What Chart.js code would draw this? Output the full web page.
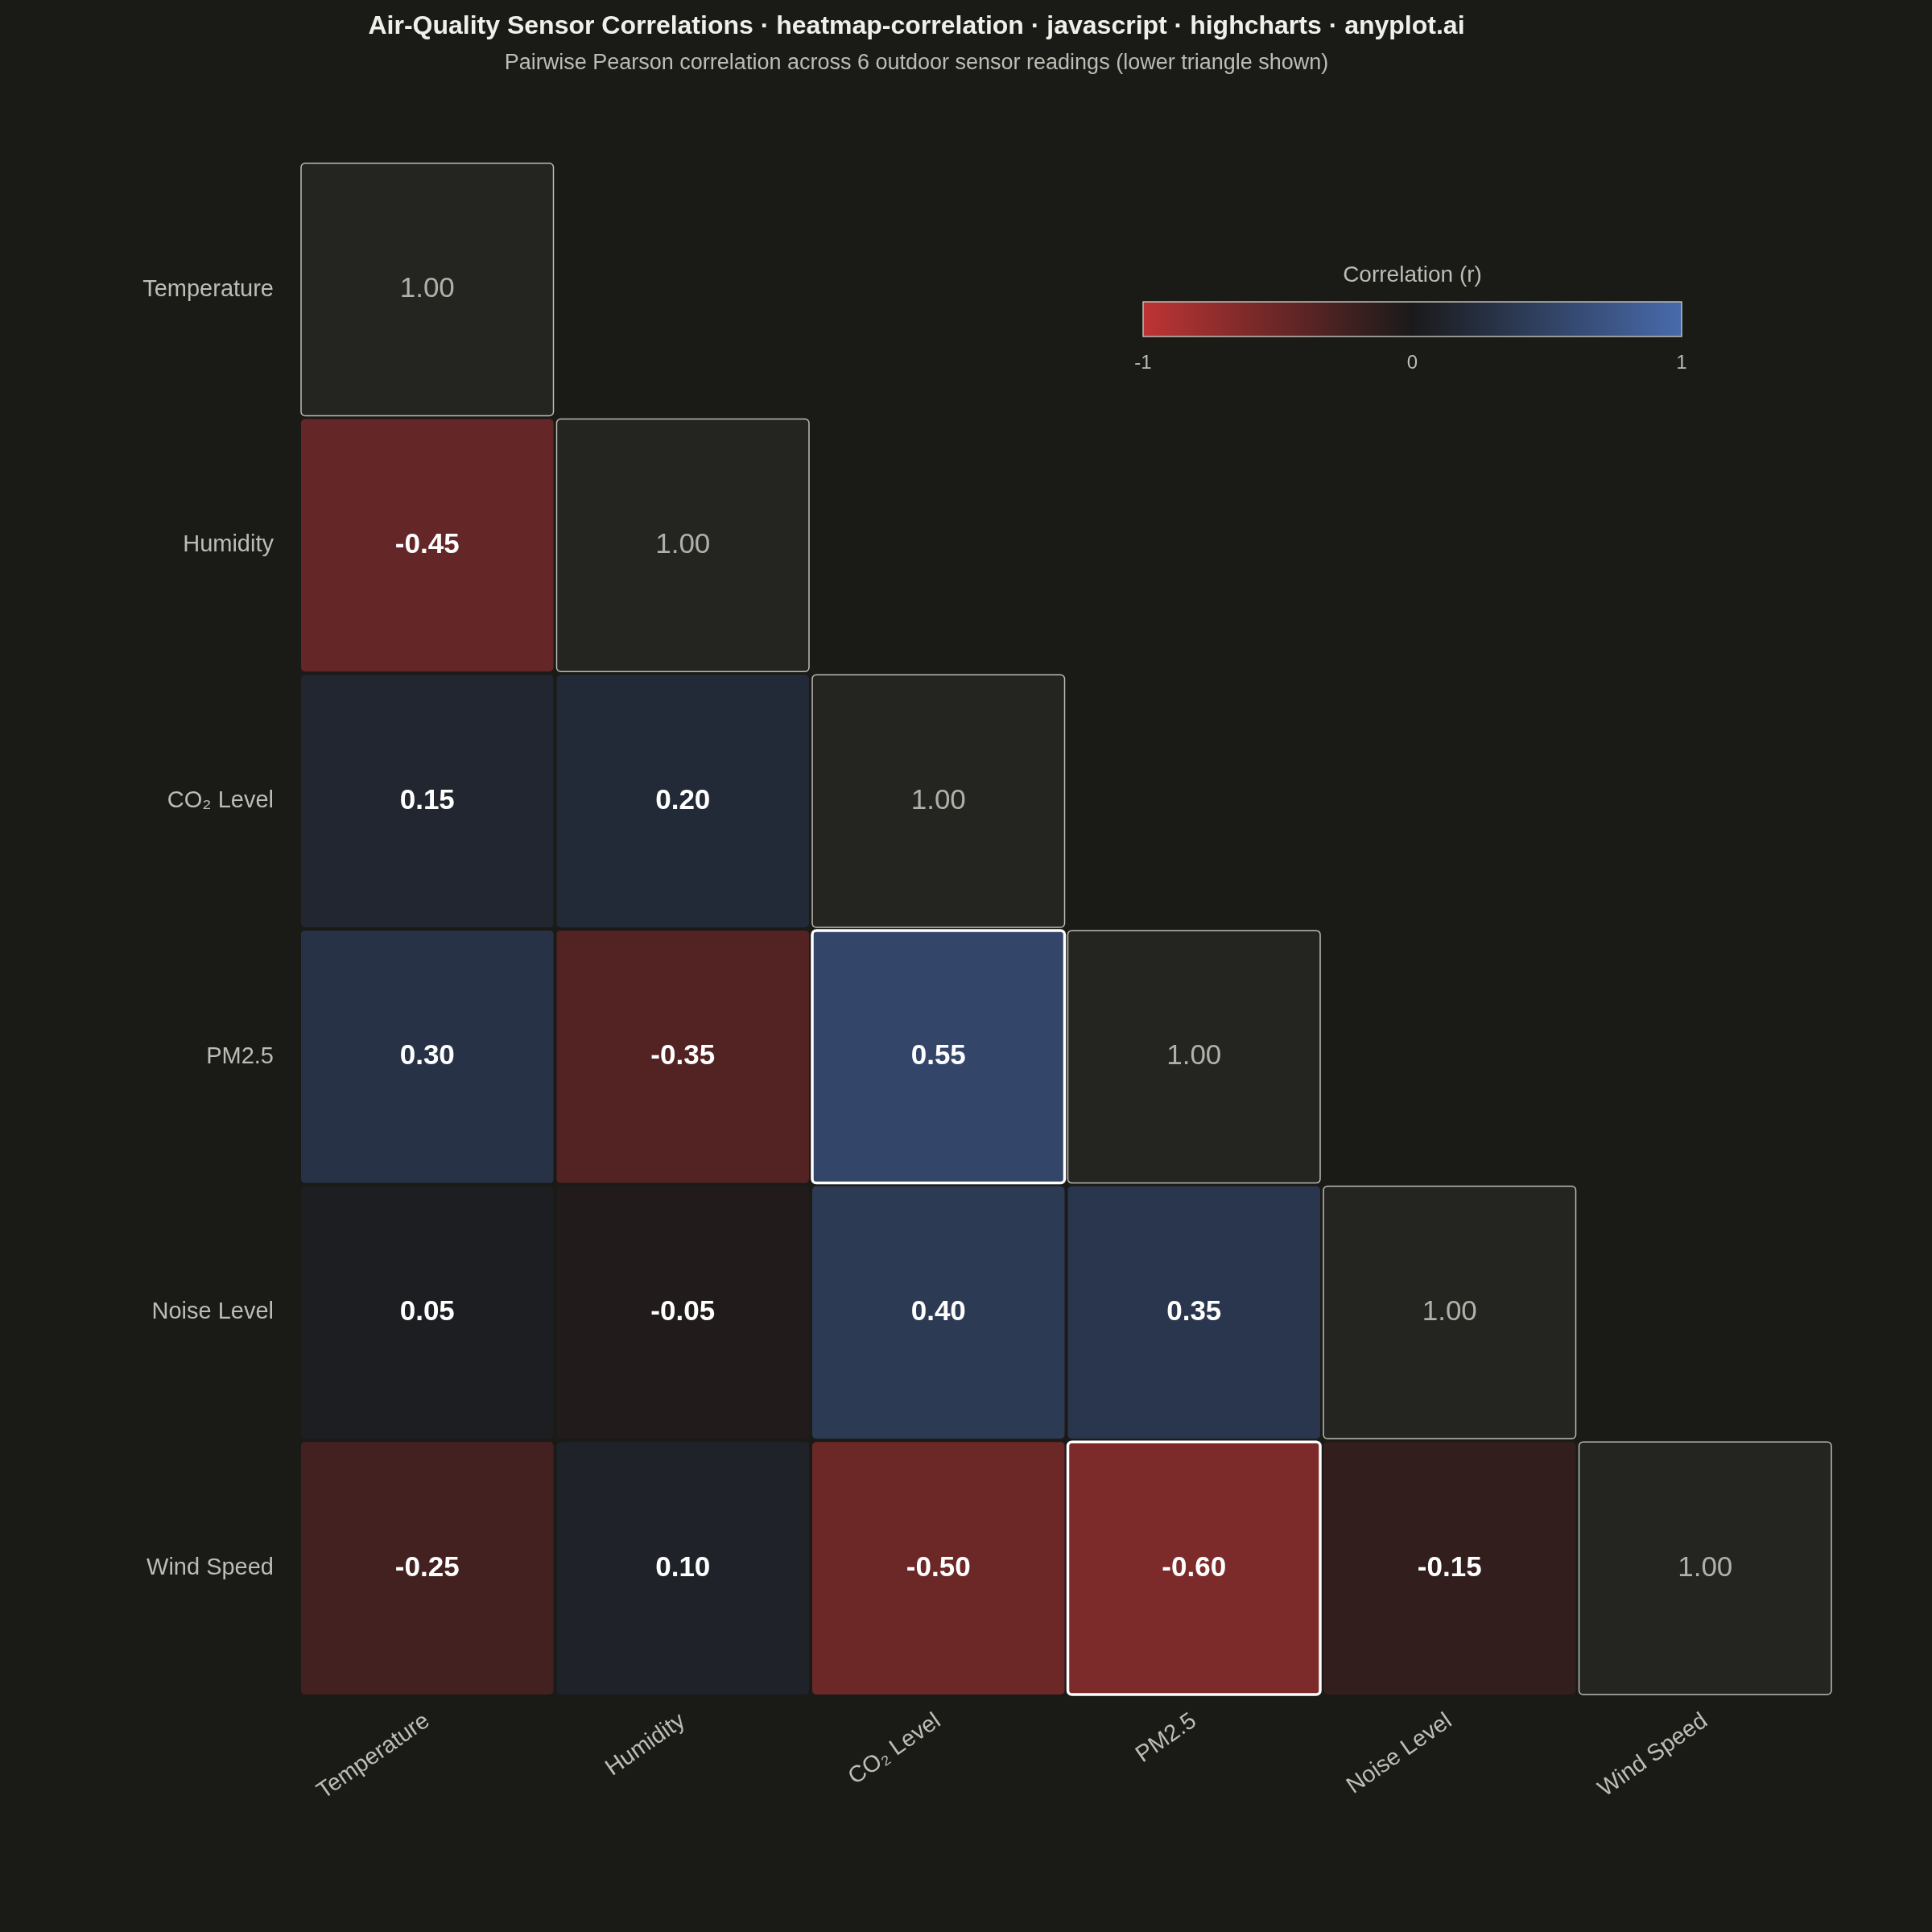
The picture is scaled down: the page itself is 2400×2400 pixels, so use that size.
<!DOCTYPE html>
<html>
<head>
<meta charset="utf-8">
<script src="https://cdn.jsdelivr.net/npm/chart.js@4.4.0/dist/chart.umd.min.js"></script>
<style>
  html, body { margin: 0; background: #1a1a17; }
  #wrap { width: 2400px; height: 2400px; }
</style>
</head>
<body>
<div id="wrap"><canvas id="heat"></canvas></div>
<script>
// sensors and the lower triangle of the correlation matrix
const sensors = ["Temperature", "Humidity", "CO\u2082 Level", "PM2.5", "Noise Level", "Wind Speed"];
const corrRows = [
  [1.00],
  [-0.45, 1.00],
  [0.15, 0.20, 1.00],
  [0.30, -0.35, 0.55, 1.00],
  [0.05, -0.05, 0.40, 0.35, 1.00],
  [-0.25, 0.10, -0.50, -0.60, -0.15, 1.00]
];
const colorTicks = [-1, 0, 1];

const NEG = [190, 52, 52], MID = [26, 26, 26], POS = [72, 106, 172];

function colorFor(v) {
  const end = v < 0 ? NEG : POS;
  const t = Math.abs(v);
  const c = MID.map((m, i) => Math.round(m + (end[i] - m) * t));
  return "rgb(" + c.join(",") + ")";
}

// flatten into points for the scatter dataset
const cells = [];
corrRows.forEach((row, r) => row.forEach((v, c) => cells.push({ x: c, y: r, v: v })));

// strongest off-diagonal pairs get a white outline
const offDiag = cells.filter(p => p.x !== p.y).map(p => Math.abs(p.v));
const strongest = offDiag.slice().sort((a, b) => b - a).slice(0, 2);

const cellPlugin = {
  id: "cells",
  beforeDatasetsDraw(chart) {
    const { ctx, scales: { x, y } } = chart;
    const gap = 2;
    cells.forEach(p => {
      const x0 = x.getPixelForValue(p.x - 0.5) + gap, x1 = x.getPixelForValue(p.x + 0.5) - gap;
      const y0 = y.getPixelForValue(p.y - 0.5) + gap, y1 = y.getPixelForValue(p.y + 0.5) - gap;
      const diag = p.x === p.y;
      const hi = !diag && strongest.includes(Math.abs(p.v));
      ctx.save();
      ctx.beginPath();
      ctx.roundRect(x0, y0, x1 - x0, y1 - y0, 5);
      ctx.fillStyle = diag ? "#242420" : colorFor(p.v);
      ctx.fill();
      if (diag || hi) {
        ctx.lineWidth = hi ? 3.5 : 1.5;
        ctx.strokeStyle = hi ? "#ffffff" : "#bdbdb5";
        ctx.stroke();
      }
      ctx.textAlign = "center";
      ctx.textBaseline = "middle";
      ctx.font = (diag ? "" : "bold ") + "35px 'Liberation Sans', Arial, sans-serif";
      ctx.fillStyle = diag ? "#b0b0a8" : "#ffffff";
      ctx.fillText(p.v.toFixed(2), (x0 + x1) / 2, (y0 + y1) / 2);
      ctx.restore();
    });

    // colour bar legend
    const bx = 1420, bw = 669, by = 375, bh = 43;
    ctx.save();
    const g = ctx.createLinearGradient(bx, 0, bx + bw, 0);
    g.addColorStop(0, colorFor(-1));
    g.addColorStop(0.5, colorFor(0));
    g.addColorStop(1, colorFor(1));
    ctx.fillStyle = g;
    ctx.fillRect(bx, by, bw, bh);
    ctx.strokeStyle = "#bdbdb5";
    ctx.lineWidth = 1.5;
    ctx.strokeRect(bx, by, bw, bh);
    ctx.fillStyle = "#bdbdb5";
    ctx.textAlign = "center";
    ctx.textBaseline = "middle";
    ctx.font = "28px 'Liberation Sans', Arial, sans-serif";
    ctx.fillText("Correlation (r)", bx + bw / 2, 342);
    ctx.font = "24px 'Liberation Sans', Arial, sans-serif";
    colorTicks.forEach(t => ctx.fillText(String(t), bx + (t + 1) / 2 * bw, 451));
    ctx.restore();
  }
};

const tickFont = { family: "'Liberation Sans', Arial, sans-serif", size: 29 };

new Chart(document.getElementById("heat"), {
  type: "scatter",
  data: { datasets: [{ data: cells, pointRadius: 0, pointHoverRadius: 0 }] },
  options: {
    responsive: true,
    maintainAspectRatio: false,
    animation: false,
    layout: { padding: { left: 0, right: 123, top: 0, bottom: 0 } },
    scales: {
      x: {
        type: "linear", min: -0.5, max: 5.5,
        grid: { display: false }, border: { display: false },
        afterBuildTicks: s => { s.ticks = sensors.map((_, i) => ({ value: i })); },
        afterFit: s => { s.height = 293; },
        ticks: { color: "#bdbdb5", font: tickFont, minRotation: 35, maxRotation: 35, padding: 6,
          callback: v => sensors[v] }
      },
      y: {
        type: "linear", min: -0.5, max: 5.5, reverse: true,
        grid: { display: false }, border: { display: false },
        afterBuildTicks: s => { s.ticks = sensors.map((_, i) => ({ value: i })); },
        afterFit: s => { s.width = 372; },
        ticks: { color: "#bdbdb5", font: tickFont, padding: 24, callback: v => sensors[v] }
      }
    },
    plugins: {
      legend: { display: false },
      tooltip: { enabled: false },
      title: {
        display: true,
        text: "Air-Quality Sensor Correlations \u00b7 heatmap-correlation \u00b7 javascript \u00b7 highcharts \u00b7 anyplot.ai",
        color: "#f0f0ea",
        font: { family: "'Liberation Sans', Arial, sans-serif", size: 32, weight: "bold" },
        padding: { top: 14, bottom: 10 }
      },
      subtitle: {
        display: true,
        text: "Pairwise Pearson correlation across 6 outdoor sensor readings (lower triangle shown)",
        color: "#bdbdb5",
        font: { family: "'Liberation Sans', Arial, sans-serif", size: 27 },
        padding: { bottom: 106 }
      }
    }
  },
  plugins: [cellPlugin]
});
</script>
</body>
</html>
